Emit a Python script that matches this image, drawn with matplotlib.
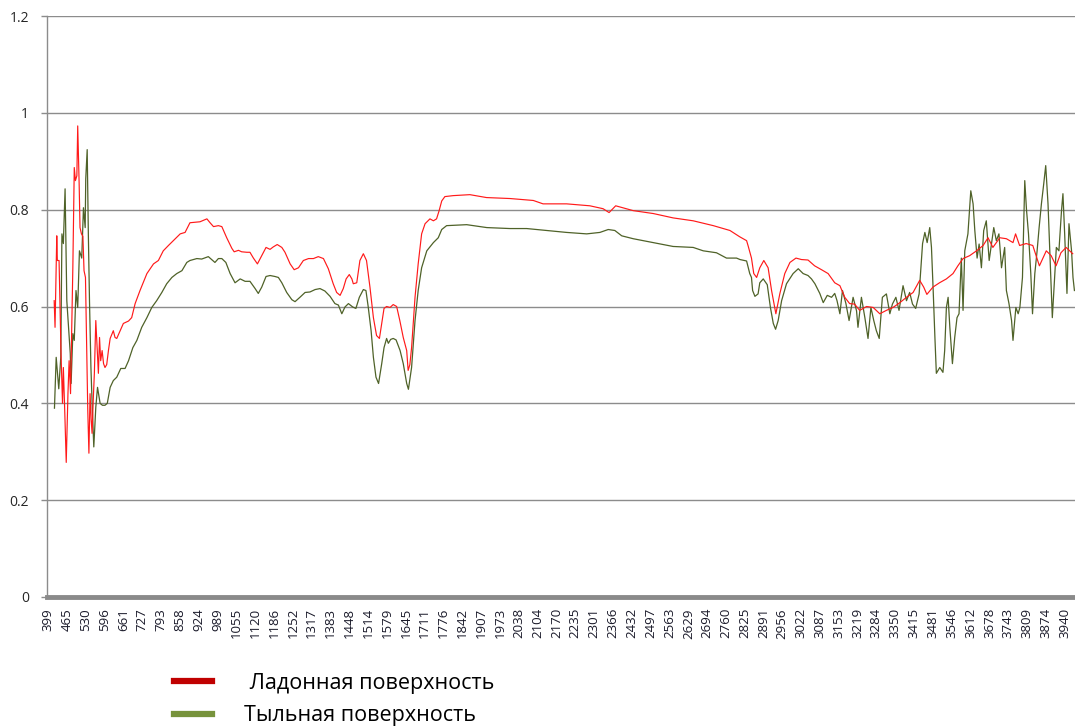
import matplotlib
matplotlib.use("Agg")
import matplotlib.pyplot as plt
from matplotlib.lines import Line2D

# ---- data ----
palm_wn = [420, 423, 429, 431, 437, 441, 444, 449, 452, 457, 462, 468, 472, 477, 482, 485, 490, 494, 499, 502,
           507, 510, 515, 520, 524, 529, 534, 537, 541, 545, 549, 552, 556, 560, 565, 570, 574, 578, 582, 587,
           592, 597, 603, 609, 615, 626, 632, 638, 650, 661, 679, 690, 702, 719, 743, 766, 783, 800, 818, 835,
           859, 876, 893, 928, 952, 963, 975, 992, 1004, 1021, 1039, 1047, 1062, 1073, 1091, 1102, 1114, 1128,
           1143, 1158, 1172, 1183, 1197, 1213, 1224, 1242, 1256, 1271, 1288, 1306, 1323, 1340, 1358, 1375, 1392,
           1404, 1416, 1427, 1437, 1448, 1457, 1462, 1474, 1485, 1497, 1508, 1520, 1532, 1543, 1553, 1561, 1569,
           1578, 1590, 1601, 1613, 1624, 1636, 1648, 1653, 1659, 1665, 1677, 1688, 1700, 1712, 1729, 1741, 1752,
           1761, 1770, 1781, 1810, 1868, 1926, 2008, 2089, 2123, 2205, 2286, 2332, 2353, 2376, 2437, 2507, 2576,
           2646, 2716, 2774, 2808, 2820, 2832, 2837, 2849, 2857, 2867, 2878, 2892, 2907, 2919, 2934, 2948, 2965,
           2983, 3004, 3023, 3046, 3069, 3093, 3116, 3139, 3157, 3174, 3191, 3208, 3226, 3250, 3273, 3296, 3319,
           3342, 3366, 3389, 3412, 3435, 3449, 3460, 3481, 3504, 3528, 3551, 3568, 3586, 3609, 3633, 3656, 3673,
           3690, 3714, 3737, 3760, 3769, 3783, 3806, 3829, 3852, 3876, 3893, 3910, 3927, 3945, 3968]
palm_val = [.612, .557, .746, .695, .695, .585, .50, .40, .474, .38, .278, .42, .488, .42, .577, .68, .887, .86, .87, .973,
            .853, .763, .75, .745, .674, .66, .495, .386, .297, .42, .365, .338, .406, .462, .571, .509, .462, .536, .488, .509,
            .482, .474, .48, .509, .534, .55, .536, .534, .55, .565, .57, .577, .606, .633, .668, .688, .695, .715, .726, .736,
            .75, .753, .773, .775, .781, .773, .765, .767, .765, .742, .72, .713, .716, .713, .712, .712, .70, .688,
            .705, .722, .718, .723, .728, .722, .712, .688, .676, .68, .695, .699, .699, .703, .699, .678, .647,
            .629, .623, .637, .657, .666, .657, .647, .649, .695, .709, .695, .64, .577, .54, .534, .565, .596,
            .60, .598, .604, .60, .571, .536, .509, .468, .48, .515, .619, .688, .75, .771, .781, .777, .781,
            .798, .818, .827, .829, .831, .825, .823, .819, .812, .812, .808, .802, .794, .808, .798, .792, .783,
            .777, .767, .757, .744, .740, .736, .726, .70, .668, .66, .68, .695, .68, .633, .585, .627, .668,
            .691, .70, .697, .696, .684, .676, .668, .649, .643, .619, .606, .605, .592, .60, .598, .585, .592,
            .598, .608, .619, .629, .654, .64, .625, .64, .649, .657, .668, .684, .699, .705, .715, .726, .742,
            .722, .742, .74, .732, .75, .726, .73, .726, .684, .715, .705, .684, .711, .722, .709]

back_wn = [421, 427, 436, 443, 447, 452, 458, 464, 470, 476, 479, 485, 490, 496, 502, 508, 516, 522, 528, 530,
           535, 539, 543, 548, 553, 558, 565, 571, 580, 588, 597, 605, 615, 626, 638, 652, 667, 679, 694, 708,
           725, 743, 760, 777, 795, 812, 830, 847, 865, 882, 893, 917, 934, 957, 972, 980, 992, 1004, 1018, 1033,
           1050, 1068, 1085, 1102, 1120, 1131, 1143, 1158, 1172, 1189, 1201, 1213, 1230, 1248, 1259, 1276, 1294,
           1311, 1329, 1346, 1363, 1381, 1398, 1410, 1422, 1433, 1445, 1460, 1471, 1483, 1497, 1506, 1514, 1524,
           1532, 1541, 1550, 1561, 1569, 1578, 1584, 1592, 1601, 1611, 1625, 1636, 1648, 1654, 1665, 1677, 1688,
           1700, 1718, 1741, 1758, 1770, 1787, 1857, 1927, 2008, 2066, 2135, 2205, 2275, 2321, 2350, 2373, 2397,
           2437, 2507, 2576, 2646, 2681, 2727, 2762, 2797, 2809, 2832, 2843, 2849, 2853, 2861, 2872, 2878, 2890,
           2904, 2915, 2925, 2933, 2942, 2954, 2971, 2994, 3012, 3029, 3046, 3058, 3070, 3087, 3099, 3113, 3128,
           3139, 3147, 3157, 3166, 3178, 3189, 3203, 3215, 3220, 3232, 3244, 3255, 3265, 3275, 3284, 3294, 3305,
           3319, 3331, 3340, 3352, 3363, 3377, 3389, 3400, 3410, 3421, 3433, 3445, 3453, 3461, 3470, 3476, 3482,
           3488, 3493, 3505, 3516, 3522, 3528, 3534, 3540, 3549, 3557, 3565, 3572, 3580, 3586, 3592, 3603, 3613,
           3621, 3627, 3635, 3642, 3650, 3658, 3667, 3677, 3685, 3693, 3702, 3711, 3720, 3731, 3737, 3746, 3755,
           3760, 3770, 3778, 3784, 3793, 3801, 3807, 3814, 3822, 3828, 3836, 3844, 3851, 3859, 3867, 3874, 3882,
           3890, 3897, 3905, 3911, 3920, 3929, 3934, 3940, 3948, 3955, 3964, 3969, 3974]
back_val = [.39, .495, .43, .495, .75, .73, .843, .612, .557, .503, .441, .544, .53, .633, .598, .715, .70, .804, .763, .864,
            .924, .75, .612, .474, .386, .31, .392, .433, .40, .396, .396, .40, .433, .447, .454, .472, .472, .488, .515, .53,
            .557, .577, .598, .612, .629, .647, .66, .668, .674, .691, .695, .699, .698, .703, .695, .691, .699, .699, .691, .668,
            .649, .657, .652, .652, .637, .627, .64, .662, .664, .662, .66, .649, .629, .614, .61, .619, .629,
            .63, .635, .637, .632, .621, .606, .603, .585, .599, .606, .599, .596, .619, .635, .633, .599, .55,
            .495, .454, .441, .482, .515, .534, .524, .532, .534, .531, .509, .482, .441, .429, .474, .571, .633,
            .68, .715, .732, .742, .759, .767, .769, .763, .761, .761, .757, .753, .75, .753, .759, .757, .746,
            .740, .732, .724, .722, .715, .711, .70, .70, .697, .694, .668, .66, .633, .621, .626, .649, .657,
            .645, .598, .565, .553, .571, .612, .647, .668, .678, .668, .664, .657, .647, .627, .608, .623, .619,
            .627, .612, .585, .633, .606, .571, .619, .591, .557, .619, .577, .534, .598, .571, .55, .534, .619,
            .626, .585, .605, .619, .592, .643, .612, .629, .605, .596, .626, .730, .753, .732, .763, .722, .633,
            .536, .462, .474, .464, .509, .598, .619, .557, .482, .536, .577, .585, .70, .592, .715, .75, .839,
            .812, .757, .70, .729, .68, .757, .777, .695, .729, .763, .736, .75, .68, .722, .633, .606, .571,
            .53, .598, .585, .598, .66, .86, .80, .75, .668, .585, .668, .715, .763, .812, .853, .891, .812,
            .688, .577, .66, .722, .715, .798, .833, .75, .627, .771, .715, .66, .633]

tick_labels = ["399", "465", "530", "596", "661", "727", "793", "858", "924", "989", "1055", "1120", "1186",
               "1252", "1317", "1383", "1448", "1514", "1579", "1645", "1711", "1776", "1842", "1907", "1973",
               "2038", "2104", "2170", "2235", "2301", "2366", "2432", "2497", "2563", "2629", "2694", "2760",
               "2825", "2891", "2956", "3022", "3087", "3153", "3219", "3284", "3350", "3415", "3481", "3546",
               "3612", "3678", "3743", "3809", "3874", "3940"]
y_ticks = [0, 0.2, 0.4, 0.6, 0.8, 1.0, 1.2]
y_tick_labels = ["0", "0.2", "0.4", "0.6", "0.8", "1", "1.2"]
series_names = [" Ладонная поверхность", "Тыльная поверхность"]

plt.rcParams['font.family'] = ['Open Sans', 'DejaVu Sans']

fig = plt.figure(figsize=(10.75, 7.28), dpi=100)
ax = fig.add_axes([47 / 1075, 1 - 597 / 728, 1 - 47 / 1075, (597 - 16) / 728])

ax.plot(palm_wn, palm_val, color='#ff1a1a', lw=0.85, zorder=3)
ax.plot(back_wn, back_val, color='#4f6228', lw=0.9, zorder=2)

ax.set_xlim(395, 3976)
ax.set_ylim(0, 1.2)
ax.set_yticks(y_ticks)
ax.set_yticklabels(y_tick_labels)
ax.set_xticks([int(t) for t in tick_labels])
ax.set_xticklabels(tick_labels, rotation=90, va='top', ha='center')

ax.grid(axis='y', color='#8c8c8c', lw=1.0)
ax.set_axisbelow(True)
for s in ['top', 'right']:
    ax.spines[s].set_visible(False)
ax.spines['left'].set_color('#8c8c8c')
ax.spines['left'].set_linewidth(1.0)
ax.spines['bottom'].set_color('#8a8a8a')
ax.spines['bottom'].set_linewidth(3.5)
ax.spines['bottom'].set_zorder(4)

ax.tick_params(axis='y', length=4, width=1, color='#8c8c8c', pad=9, labelsize=10, labelcolor='#262626')
ax.tick_params(axis='x', length=0, pad=8, labelsize=9.5, labelcolor='#1a1a2a')

handles = [Line2D([], [], color='#c00000', lw=4.5), Line2D([], [], color='#77933c', lw=4.5)]
fig.legend(handles, series_names, loc='upper left', bbox_to_anchor=(174 / 1075, 1 - 673 / 728),
           frameon=False, fontsize=15.5, handlelength=1.75, handletextpad=1.5, labelspacing=0.52,
           borderpad=0, borderaxespad=0)

fig.savefig("out.png", dpi=100)
